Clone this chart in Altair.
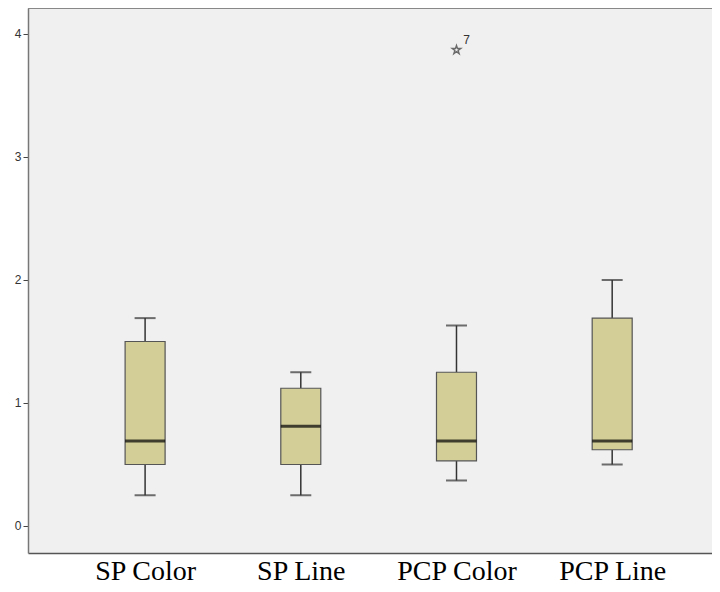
import altair as alt
import pandas as pd

groups = ["SP Color", "SP Line", "PCP Color", "PCP Line"]
lower = [0.25, 0.25, 0.37, 0.50]
q1 = [0.50, 0.50, 0.53, 0.62]
median = [0.69, 0.81, 0.69, 0.69]
q3 = [1.50, 1.12, 1.25, 1.69]
upper = [1.69, 1.25, 1.63, 2.00]

outlier_group = ["PCP Color"]
outlier_value = [3.87]
outlier_label = ["7"]

df = pd.DataFrame({"group": groups, "pos": list(range(len(groups))), "lower": lower,
                   "q1": q1, "median": median, "q3": q3, "upper": upper})
odf = pd.DataFrame({"group": outlier_group,
                    "pos": [groups.index(g) for g in outlier_group],
                    "value": outlier_value, "label": outlier_label})

W, H = 684, 545

label_list = "[" + ",".join("'" + g + "'" for g in groups) + "]"
xscale = alt.Scale(domain=[-0.72, 3.609], nice=False, zero=False)
yscale = alt.Scale(domain=[-0.2195, 4.211], nice=False, zero=False)

x_axis = alt.Axis(title=None, values=list(range(len(groups))), ticks=False,
                  labelExpr=label_list + "[datum.value]",
                  labelFont="Liberation Serif", labelFontSize=28, labelFontWeight=400,
                  labelColor="#000000", labelPadding=26, labelBaseline="alphabetic",
                  labelAngle=0, labelAlign="center", labelFlush=False, labelOverlap=False,
                  domainColor="#555555", domainWidth=1.5, grid=False)
x_enc = alt.X("pos:Q", scale=xscale, axis=x_axis)
y_axis = alt.Axis(title=None, values=[0, 1, 2, 3, 4], format="d", tickSize=5,
                  labelFontSize=12, labelFont="Liberation Sans", labelColor="#333333",
                  labelPadding=2, domainColor="#777777", domainWidth=1.5,
                  tickColor="#444444", tickWidth=1, grid=False)

base = alt.Chart(df)

whisk_lo = base.mark_rule(color="#333333", strokeWidth=1.5).encode(
    x=x_enc, y=alt.Y("lower:Q", scale=yscale, axis=y_axis), y2="q1:Q")
whisk_hi = base.mark_rule(color="#333333", strokeWidth=1.5).encode(
    x=x_enc, y=alt.Y("q3:Q", scale=yscale), y2="upper:Q")
box = base.mark_bar(size=40, fill="#D3CE97", stroke="#555555", strokeWidth=1.2).encode(
    x=x_enc, y=alt.Y("q1:Q", scale=yscale), y2="q3:Q")
cap_lo = base.mark_tick(size=21, thickness=2, color="#333333", orient="horizontal").encode(
    x=x_enc, y=alt.Y("lower:Q", scale=yscale))
cap_hi = base.mark_tick(size=21, thickness=2, color="#333333", orient="horizontal").encode(
    x=x_enc, y=alt.Y("upper:Q", scale=yscale))
med = base.mark_tick(size=40, thickness=3, color="#000000", orient="horizontal").encode(
    x=x_enc, y=alt.Y("median:Q", scale=yscale))

star_path = ("M0,-1L0.2245,-0.309L0.951,-0.309L0.363,0.118L0.588,0.809L0,0.382"
             "L-0.588,0.809L-0.363,0.118L-0.951,-0.309L-0.2245,-0.309Z")
ob = alt.Chart(odf)
star = ob.mark_point(shape=star_path, size=80, filled=False, stroke="#333333",
                     strokeWidth=1.4).encode(x=x_enc, y=alt.Y("value:Q", scale=yscale))
star_lbl = ob.mark_text(dx=10, dy=-10, fontSize=12, font="Liberation Sans",
                        color="#333333").encode(
    x=x_enc, y=alt.Y("value:Q", scale=yscale), text="label:N")

top_border = alt.Chart(pd.DataFrame({"a": [0]})).mark_rule(
    color="#888888", strokeWidth=2).encode(
    y=alt.value(0), x=alt.value(0), x2=alt.value(W))

chart = alt.layer(top_border, whisk_lo, whisk_hi, box, cap_lo, cap_hi, med, star,
                  star_lbl).properties(
    width=W, height=H,
    autosize=alt.AutoSizeParams(type="none"),
    padding={"left": 20, "top": 0, "right": 0, "bottom": 31},
    background="white",
).configure_view(fill="#f0f0f0", stroke=None)

chart.save("out.html", embed_options={"renderer": "svg", "actions": False})
